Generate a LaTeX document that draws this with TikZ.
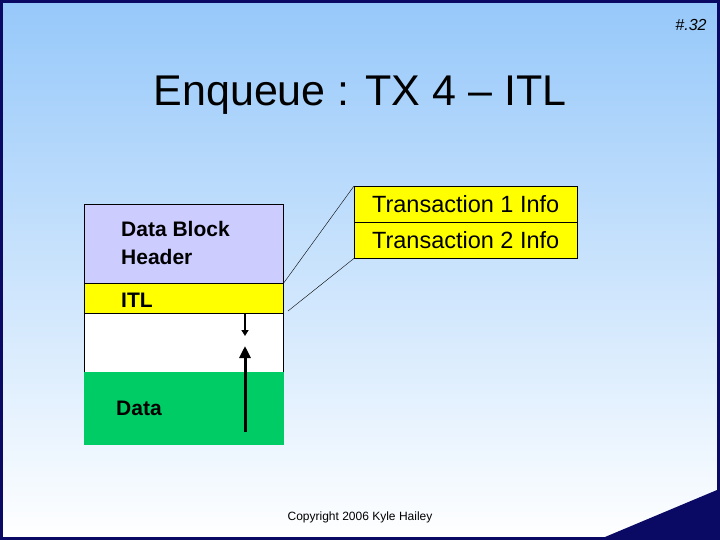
\documentclass[tikz,border=0pt]{standalone}
\usepackage{fontspec}
\setmainfont{Liberation Sans}
\usetikzlibrary{arrows.meta}
\definecolor{skyblue}{RGB}{150,200,250}
\definecolor{navy}{RGB}{10,10,100}
\definecolor{headerlav}{RGB}{204,204,255}
\definecolor{itlyellow}{RGB}{255,255,0}
\definecolor{datagreen}{RGB}{0,204,102}
\tikzset{
  blockpart/.style={draw, anchor=north west, minimum width=199pt, inner sep=0pt},
  txbox/.style={draw, fill=itlyellow, anchor=north west, minimum width=223pt, minimum height=36pt, inner sep=0pt, font=\fontsize{23.5}{26}\selectfont},
  parttext/.style={anchor=west, font=\fontsize{21}{28}\selectfont\bfseries, align=left, inner sep=0pt},
}
\begin{document}
\begin{tikzpicture}[x=1pt,y=-1pt]
  \useasboundingbox (0,0) rectangle (720,540);
  \shade[top color=skyblue, bottom color=white] (0,0) rectangle (720,540);
  \draw[navy, line width=3pt] (1.5,1.5) rectangle (718.5,538.5);
  \fill[navy] (605,537) -- (717,490) -- (717,537) -- cycle;
  \node[font=\fontsize{16}{18}\selectfont\itshape] (pagenum) at (691,25) {\#.32};
  \node[font=\fontsize{43}{50}\selectfont] (title) at (360,95) {Enqueue : TX 4 – ITL};

      \node[blockpart, fill=headerlav, minimum height=79pt] (header) at (84,204) {};
      \node[blockpart, fill=itlyellow, minimum height=30pt] (itl) at (84,283) {};
      \node[blockpart, fill=white, minimum height=59pt] (free) at (84,313) {};
      \node[blockpart, fill=datagreen, draw=datagreen, minimum height=72pt] (data) at (84,372) {};
      \node[parttext] at (121,243) {Data Block\\Header};
      \node[parttext] at (121,300) {ITL};
      \node[parttext] at (116,408) {Data};

      \node[txbox] (tx1) at (354,186) {Transaction 1 Info};
      \node[txbox] (tx2) at (354,222) {Transaction 2 Info};
      \coordinate (itlend) at (288,311);

      \draw[thin] (header.south east) -- (tx1.north west);
      \draw[thin] (itlend) -- (tx2.south west);
      \draw[-{Triangle[width=7pt,length=6pt]}, line width=1.5pt] (245,313) -- (245,336);
      \draw[-{Triangle[width=11pt,length=12pt]}, line width=3pt] (245,432) -- (245,346);

  \node[font=\fontsize{12}{14}\selectfont] (copyright) at (360,517) {Copyright 2006 Kyle Hailey};
\end{tikzpicture}
\end{document}
